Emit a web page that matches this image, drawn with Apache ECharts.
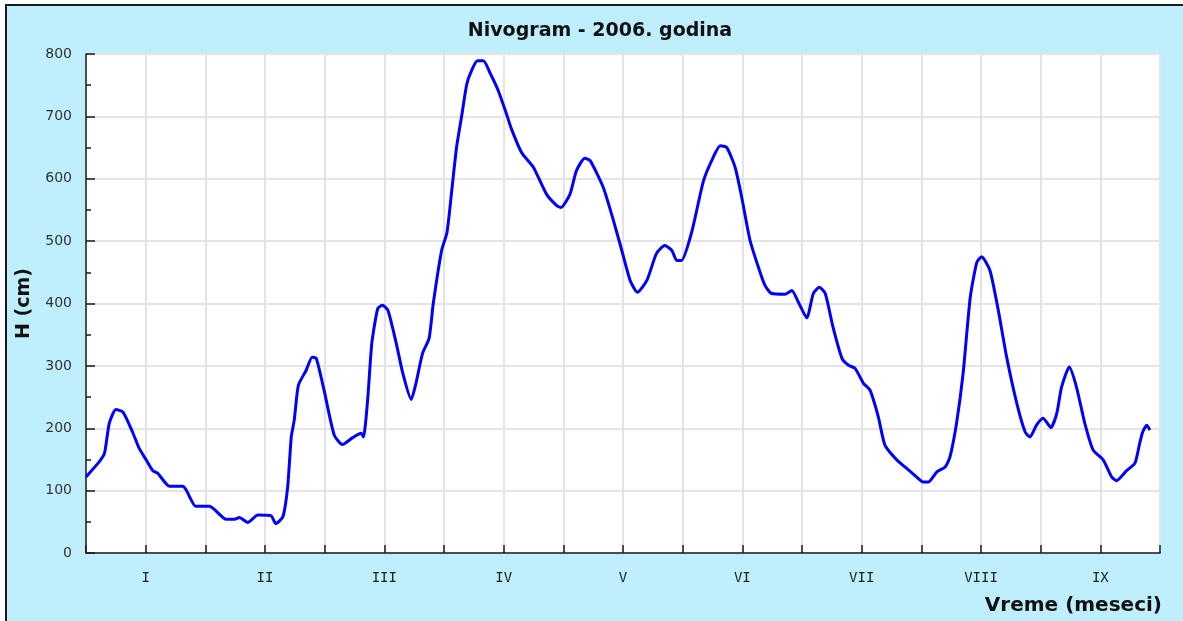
<!DOCTYPE html>
<html>
<head>
<meta charset="utf-8">
<script src="https://cdn.jsdelivr.net/npm/echarts@6/dist/echarts.min.js"></script>
<style>
  html, body { margin: 0; padding: 0; background: #ffffff; width: 1183px; height: 621px; overflow: hidden; }
  #frame { position: absolute; left: 5px; top: 4px; width: 1200px; height: 640px;
           background: #bfeefc; border-top: 2px solid #1a1a1a; border-left: 2px solid #1a1a1a; }
  #chart { position: absolute; left: 0; top: 0; width: 1183px; height: 621px; }
</style>
</head>
<body>
<div id="frame"></div>
<div id="chart"></div>
<script>
// Time position in axis tick units (two ticks per month, month labels on odd ticks)
const timePos = [0, 0.22, 0.31, 0.39, 0.50, 0.62, 0.78, 0.89, 1.01, 1.12, 1.20, 1.40, 1.62, 1.68, 1.84, 2.07,
  2.35, 2.49, 2.57, 2.71, 2.88, 3.10, 3.18, 3.30, 3.38, 3.44, 3.49, 3.56, 3.69, 3.79, 3.86, 3.99,
  4.16, 4.30, 4.47, 4.61, 4.65, 4.72, 4.79, 4.89, 4.97, 5.06, 5.20, 5.31, 5.45, 5.53, 5.64, 5.75,
  5.82, 5.96, 6.05, 6.13, 6.21, 6.30, 6.38, 6.46, 6.56, 6.66, 6.77, 6.91, 7.05, 7.13, 7.30, 7.50,
  7.72, 7.89, 7.96, 8.11, 8.22, 8.36, 8.45, 8.67, 8.84, 8.98, 9.12, 9.24, 9.40, 9.56, 9.70, 9.82,
  9.90, 9.98, 10.15, 10.35, 10.51, 10.63, 10.74, 10.88, 10.99, 11.13, 11.27, 11.38, 11.49, 11.72,
  11.83, 11.94, 12.08, 12.19, 12.29, 12.39, 12.52, 12.67, 12.78, 12.89, 13.03, 13.14, 13.28, 13.39,
  13.59, 13.75, 13.92, 14.03, 14.12, 14.26, 14.40, 14.48, 14.59, 14.70, 14.82, 14.93, 15.01, 15.15,
  15.29, 15.43, 15.60, 15.74, 15.82, 15.93, 16.04, 16.17, 16.27, 16.35, 16.48, 16.60, 16.74, 16.88,
  17.05, 17.19, 17.27, 17.44, 17.58, 17.66, 17.71, 17.78, 17.83];
// Snow depth H (cm)
const depthCm = [122, 146, 160, 208, 230, 226, 194, 168, 149, 132, 128, 107, 107, 101, 75, 75,
  54, 54, 57, 49, 61, 60, 47, 58, 106, 186, 213, 269, 293, 314, 312, 261,
  189, 174, 185, 192, 186, 245, 336, 392, 397, 389, 336, 288, 246, 272, 320, 344,
  400, 485, 514, 581, 650, 703, 751, 773, 789, 789, 770, 741, 703, 680, 642, 618,
  575, 557, 554, 575, 613, 633, 629, 586, 533, 485, 437, 418, 437, 480, 493, 485,
  469, 469, 514, 597, 634, 653, 650, 618, 570, 501, 458, 429, 416, 415,
  421, 402, 377, 416, 426, 416, 362, 312, 301, 296, 272, 261, 218, 173,
  149, 136, 122, 114, 114, 130, 138, 154, 208, 288, 410, 466, 475, 453,
  389, 314, 240, 194, 186, 205, 216, 201, 224, 266, 298, 266, 208, 165,
  149, 122, 116, 132, 144, 176, 194, 205, 197];
const monthLabels = ['I', 'II', 'III', 'IV', 'V', 'VI', 'VII', 'VIII', 'IX'];
const yTicks = [0, 100, 200, 300, 400, 500, 600, 700, 800];

const chartTitle = 'Nivogram - 2006. godina';
const xName = 'Vreme (meseci)';
const yName = 'H (cm)';

const seriesData = timePos.map((t, i) => [t, depthCm[i]]);

const chart = echarts.init(document.getElementById('chart'), null, { renderer: 'canvas' });
chart.setOption({
  backgroundColor: 'transparent',
  animation: false,
  graphic: [
    { type: 'text', x: 600, y: 31, style: { text: chartTitle, font: 'bold 19px "DejaVu Sans"', fill: '#111', align: 'center', verticalAlign: 'middle' } },
    { type: 'text', x: 1162, y: 606, style: { text: xName, font: 'bold 20px "DejaVu Sans"', fill: '#111', align: 'right', verticalAlign: 'middle' } }
  ],
  grid: { left: 86, right: 23, top: 54, bottom: 68, show: true, backgroundColor: '#ffffff', borderWidth: 0 },
  xAxis: {
    type: 'value', min: 0, max: 18, interval: 1,
    axisLine: { show: true, onZero: false, lineStyle: { color: '#1a1a1a', width: 1.5 } },
    axisTick: { show: true, inside: true, length: 8, lineStyle: { color: '#1a1a1a', width: 1.5 } },
    splitLine: { show: true, lineStyle: { color: '#e4e4e4', width: 2 } },
    axisLabel: {
      margin: 18, color: '#222', fontFamily: 'DejaVu Sans Mono', fontSize: 14,
      showMinLabel: true, showMaxLabel: true,
      formatter: v => (v % 2 === 1 ? monthLabels[(v - 1) / 2] : '')
    }
  },
  yAxis: {
    type: 'value', min: yTicks[0], max: yTicks[yTicks.length - 1], interval: 100,
    name: yName, nameLocation: 'middle', nameGap: 52,
    nameTextStyle: { fontFamily: 'DejaVu Sans', fontWeight: 'bold', fontSize: 19, color: '#111' },
    axisLine: { show: true, lineStyle: { color: '#1a1a1a', width: 1.5 } },
    axisTick: { show: true, inside: true, length: 9, lineStyle: { color: '#1a1a1a', width: 1.5 } },
    minorTick: { show: true, splitNumber: 2, length: 5, lineStyle: { color: '#1a1a1a', width: 1.5 } },
    splitLine: { show: true, lineStyle: { color: '#e4e4e4', width: 2 } },
    axisLabel: { margin: 14, color: '#333', fontFamily: 'DejaVu Sans', fontSize: 14 }
  },
  series: [{
    type: 'line', data: seriesData, showSymbol: false, smooth: 0.2,
    lineStyle: { color: '#0000ff', width: 3 }, z: 5
  }]
});
</script>
</body>
</html>
